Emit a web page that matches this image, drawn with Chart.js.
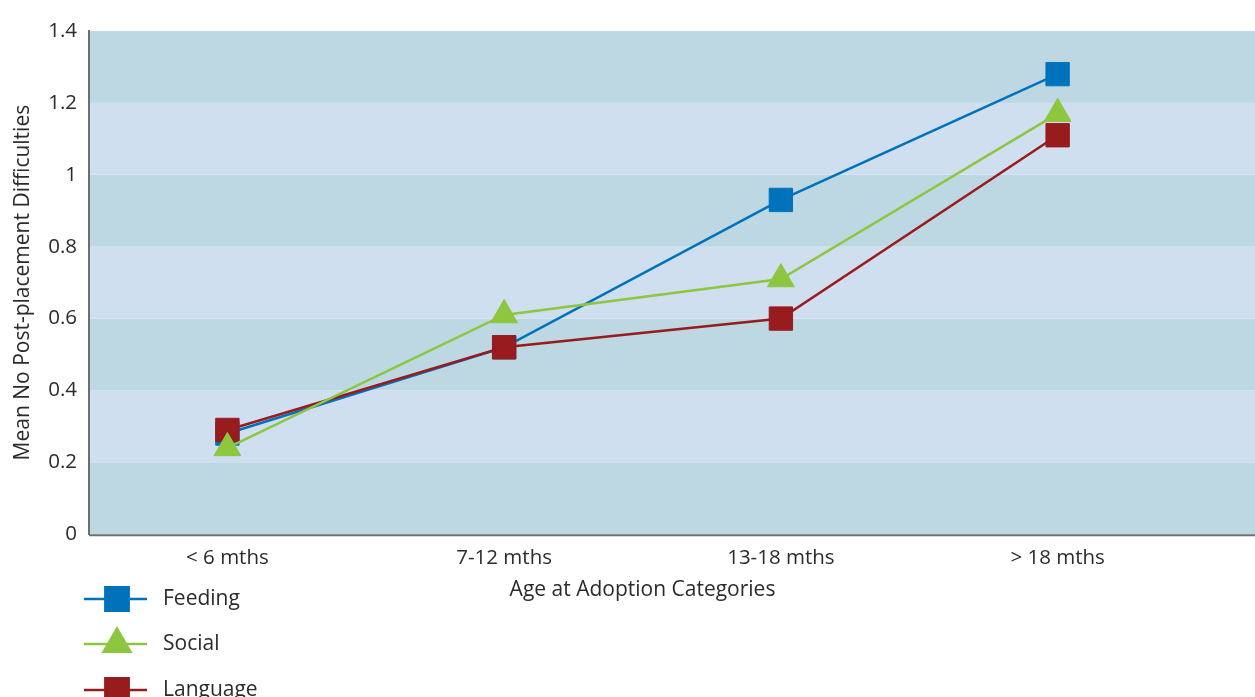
<!DOCTYPE html>
<html>
<head>
<meta charset="utf-8">
<script src="https://cdn.jsdelivr.net/npm/chart.js@4.4.1/dist/chart.umd.min.js"></script>
<style>
  html, body { margin: 0; padding: 0; background: #ffffff; overflow: hidden; }
  #wrap { width: 1255px; height: 697px; position: relative; }
</style>
</head>
<body>
<div id="wrap"><canvas id="c" width="1255" height="697"></canvas></div>
<script>
// Age-at-adoption categories and mean number of post-placement difficulties
const categories = ['< 6 mths', '7-12 mths', '13-18 mths', '> 18 mths'];
const feeding  = [0.28, 0.52, 0.93, 1.28];
const social   = [0.24, 0.61, 0.71, 1.17];
const language = [0.29, 0.52, 0.60, 1.11];
const yTickValues = [0, 0.2, 0.4, 0.6, 0.8, 1, 1.2, 1.4];

const FONT = '"Open Sans", "Noto Sans", sans-serif';
const TEXT = '#2b2b2b';
const AXIS = '#6d6e71';
const BAND_DARK = '#bdd8e3';
const BAND_LIGHT = '#cfdff0';

// drawing order: Social on top, then Language, then Feeding
const seriesStyle = [
  { label: 'Feeding',  data: feeding,  color: '#0072bc', point: 'rect',     radius: 16.5, order: 3 },
  { label: 'Social',   data: social,   color: '#8dc63f', point: 'triangle', radius: 15.5, order: 1 },
  { label: 'Language', data: language, color: '#981b1e', point: 'rect',     radius: 16.5, order: 2 }
];

// Alternating horizontal bands behind the plot, continuing to the right edge
const bandsPlugin = {
  id: 'bands',
  beforeDraw(chart) {
    const { ctx, chartArea, scales } = chart;
    const y = scales.y;
    ctx.save();
    for (let i = 0; i < yTickValues.length - 1; i++) {
      const top = y.getPixelForValue(yTickValues[i + 1]);
      const bot = y.getPixelForValue(yTickValues[i]);
      ctx.fillStyle = i % 2 === 0 ? BAND_DARK : BAND_LIGHT;
      ctx.fillRect(chartArea.left, top, chart.width - chartArea.left, bot - top);
    }
    // category axis line
    ctx.strokeStyle = AXIS;
    ctx.lineWidth = 2;
    ctx.beginPath();
    ctx.moveTo(chartArea.left, chartArea.bottom + 1);
    ctx.lineTo(chart.width, chartArea.bottom + 1);
    ctx.stroke();
    ctx.restore();
  }
};

// Stacked legend in the lower-left corner
const stackedLegend = {
  id: 'stackedLegend',
  afterDraw(chart) {
    const { ctx } = chart;
    const x0 = 84, x1 = 147, xm = 117, xt = 163;
    const rows = [599, 644, 690];
    ctx.save();
    chart.data.datasets.forEach((ds, i) => {
      const yy = rows[i];
      ctx.strokeStyle = ds.borderColor;
      ctx.lineWidth = 2.5;
      ctx.beginPath();
      ctx.moveTo(x0, yy);
      ctx.lineTo(x1, yy);
      ctx.stroke();
      ctx.fillStyle = ds.pointBackgroundColor;
      ctx.strokeStyle = ds.pointBorderColor;
      Chart.helpers.drawPoint(ctx, {
        pointStyle: ds.pointStyle,
        radius: ds.pointRadius,
        rotation: 0,
        borderWidth: 1
      }, xm, yy);
      ctx.fillStyle = TEXT;
      ctx.font = '21px ' + FONT;
      ctx.textAlign = 'left';
      ctx.textBaseline = 'middle';
      ctx.fillText(ds.label, xt, yy);
    });
    ctx.restore();
  }
};

new Chart(document.getElementById('c'), {
  type: 'line',
  data: {
    labels: categories,
    datasets: seriesStyle.map(s => ({
      label: s.label,
      data: s.data,
      order: s.order,
      borderColor: s.color,
      backgroundColor: s.color,
      borderWidth: 2.5,
      pointStyle: s.point,
      pointRadius: s.radius,
      pointHoverRadius: s.radius,
      pointBackgroundColor: s.color,
      pointBorderColor: s.color,
      pointBorderWidth: 1,
      tension: 0,
      fill: false
    }))
  },
  options: {
    responsive: false,
    animation: false,
    layout: { padding: { top: 31, right: 59, bottom: 94, left: 10 } },
    plugins: {
      legend: { display: false },
      tooltip: { enabled: false }
    },
    scales: {
      x: {
        type: 'category',
        offset: true,
        grid: { display: false, drawTicks: false },
        border: { display: false },
        ticks: { color: TEXT, font: { family: FONT, size: 20.5 }, padding: 12 },
        title: {
          display: true,
          text: 'Age at Adoption Categories',
          color: TEXT,
          font: { family: FONT, size: 21 },
          padding: { top: -5, bottom: 0 }
        }
      },
      y: {
        min: 0,
        max: 1.4,
        grid: { display: false, drawTicks: false },
        border: { display: true, color: AXIS, width: 2 },
        afterBuildTicks(axis) { axis.ticks = yTickValues.map(v => ({ value: v })); },
        ticks: {
          color: TEXT,
          font: { family: FONT, size: 20.5 },
          padding: 12,
          callback: v => String(Math.round(v * 10) / 10)
        },
        title: {
          display: true,
          text: 'Mean No Post-placement Difficulties',
          color: TEXT,
          font: { family: FONT, size: 21 },
          padding: { top: 0, bottom: 1 }
        }
      }
    }
  },
  plugins: [bandsPlugin, stackedLegend]
});
</script>
</body>
</html>
